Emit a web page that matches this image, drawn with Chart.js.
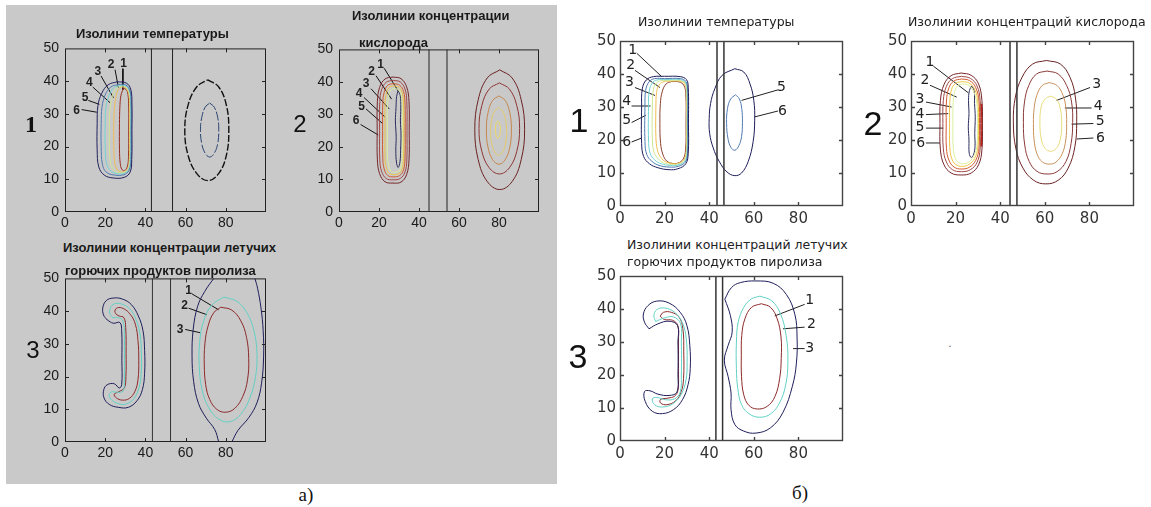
<!DOCTYPE html>
<html><head><meta charset="utf-8">
<script src="https://cdn.jsdelivr.net/npm/chart.js@4.4.1/dist/chart.umd.min.js"></script>
<style>
body{margin:0;background:#fff;width:1151px;height:507px;position:relative;overflow:hidden;}
#gray{position:absolute;left:6px;top:5px;width:551px;height:479px;background:#c9c9c9;}
canvas{position:absolute;}
.t{position:absolute;white-space:nowrap;color:#111;line-height:1;}
.c{transform:translate(-50%,-50%);}
.ab{font-family:"Liberation Sans",Arial,sans-serif;font-weight:bold;font-size:13px;color:#1a1a1a;transform:translateY(-50%);}
.bt{font-family:"DejaVu Sans",sans-serif;font-size:12.5px;color:#222;transform:translateY(-50%);}
</style></head><body>
<div id="gray"></div>
<script>
// ---------- shared ticks ----------
const xTicks = [0, 20, 40, 60, 80];
const yTicks = [0, 10, 20, 30, 40, 50];

// ---------- panel a1 : temperature (a) ----------
const a1Walls = [43, 53.5];
const a1T6 = [[26,39.8],[30.5,39.4],[32.7,37.5],[33.3,33],[33.3,25],[33.2,16],[32.4,12.2],[29.5,10.6],[24,10.4],[19.5,11.3],[16.8,13.8],[16,19],[16,27],[16.4,32.5],[18.3,36.3],[21.5,38.9],[26,39.8]];
const a1T5 = [[26.5,39],[30.3,38.8],[32.3,37],[32.9,33],[32.9,25],[32.8,16],[31.9,12.8],[29.3,11.4],[24.5,11.3],[20.5,12.2],[18.6,14.6],[18,20],[18,27],[18.4,32],[20,35.8],[22.8,38.2],[26.5,39]];
const a1T4 = [[27,38.7],[30.2,38.5],[32.1,36.8],[32.6,33],[32.6,25],[32.5,16],[31.6,13],[29.2,11.8],[25.3,11.8],[22.3,12.8],[20.6,15],[20,20],[20,27],[20.4,32],[21.8,35.5],[24,37.8],[27,38.7]];
const a1T3 = [[27.5,38.5],[30.1,38.3],[31.9,36.6],[32.4,33],[32.4,25],[32.3,16],[31.4,13.2],[29.2,12.1],[26.2,12.1],[24,13.1],[22.6,15.3],[22.1,20],[22.1,27],[22.5,32],[23.6,35.3],[25.3,37.6],[27.5,38.5]];
const a1T2 = [[28,38.2],[30,38],[31.6,36.4],[32.1,33],[32.1,25],[32,16],[31.2,13.3],[29.3,12.3],[27,12.4],[25.5,13.5],[24.6,15.5],[24.3,20],[24.3,27],[24.6,32],[25.4,35.3],[26.5,37.4],[28,38.2]];
const a1T1 = [[29,37.8],[30.3,37.5],[31.3,36],[31.7,32],[31.7,25],[31.6,17],[31,13.8],[29.6,12.6],[28.3,13],[27.5,14.8],[27.1,19],[27.1,27],[27.3,32],[27.8,35.5],[29,37.8]];
const a1R6 = [[71,40.4],[76.5,38.2],[80.3,32.6],[81.5,25],[80.3,17.4],[76.5,11.8],[71,9.6],[65.5,11.8],[61.2,17.4],[59.6,25],[61.2,32.6],[65.5,38.2],[71,40.4]];
const a1R5 = [[72,33.3],[74.3,32],[76,28.8],[76.5,25],[76,21],[74.3,18],[72,16.8],[69.7,18],[68,21],[67.4,25],[68,28.8],[69.7,32],[72,33.3]];
const a1Labels = [['1',29.2,45.2,28.8,43.8,28.8,37.4],['2',22.9,45,24.9,43.5,26.6,37.9],['3',16.3,42.9,17.9,41.6,24.1,34.9],['4',12.1,39.4,13.8,38.2,22.4,33.4],['5',10,34.9,11.6,34.1,17.1,32.9],['6',5.8,31,8.3,31.3,15.8,30.5]];

// ---------- panel a2 : oxygen (a) ----------
const a2Walls = [45, 54];
const a2O6 = [[27,41.5],[31,41],[33.8,38.5],[35,34],[35.1,25],[35,16],[33.8,11.5],[31,9.2],[27,8.9],[23,9.3],[20.3,11.8],[19.2,16],[19.1,25],[19.2,34],[20.3,38.3],[23,40.9],[27,41.5]];
const a2O5 = [[27.1,40.5],[30.6,40],[33,37.8],[33.9,34],[34,25],[33.9,16],[33,12.3],[30.6,10.3],[27.1,9.9],[23.6,10.3],[21.3,12.5],[20.4,16],[20.3,25],[20.4,34],[21.3,37.6],[23.6,39.9],[27.1,40.5]];
const a2O4 = [[27.3,39.5],[30.3,39],[32.3,37],[33,33.5],[33.1,25],[33,16.5],[32.3,13],[30.3,11.2],[27.3,10.8],[24.4,11.2],[22.6,13.2],[21.9,16.5],[21.8,25],[21.9,33.5],[22.6,36.8],[24.4,39],[27.3,39.5]];
const a2O3 = [[27.5,38.8],[30.1,38.3],[31.7,36.5],[32.3,33],[32.4,25],[32.3,17],[31.7,13.6],[30.1,11.9],[27.5,11.5],[25,11.9],[23.6,13.8],[23,17],[23,25],[23,33],[23.6,36.2],[25,38.3],[27.5,38.8]];
const a2O2 = [[27.8,38],[29.9,37.5],[31.1,35.8],[31.6,32.5],[31.7,25],[31.6,17.5],[31.1,14.2],[29.9,12.6],[27.8,12.2],[25.9,12.6],[24.8,14.4],[24.2,17.5],[24.2,25],[24.2,32.5],[24.8,35.6],[25.9,37.5],[27.8,38]];
const a2O1 = [[29.5,37.2],[30.6,36],[30.9,32],[30.7,28],[31,24],[30.8,19],[30.5,15.5],[29.6,13.7],[28.8,15],[28.4,19],[28.6,23],[28.2,28],[28.5,32],[28.8,35.5],[29.5,37.2]];
const a2E1 = [[80.4,43.7],[86.6,41.2],[91.1,34.5],[92.8,25.3],[91.1,16.1],[86.6,9.4],[80.4,6.9],[74.1,9.4],[69.6,16.1],[67.9,25.3],[69.6,34.5],[74.1,41.2],[80.4,43.7]];
const a2E2 = [[80.2,39.7],[85.2,37.8],[88.9,32.7],[90.3,25.7],[88.9,18.7],[85.2,13.6],[80.2,11.7],[75.1,13.6],[71.4,18.7],[70,25.7],[71.4,32.7],[75.1,37.8],[80.2,39.7]];
const a2E3 = [[80,35.7],[83.1,34.3],[85.4,30.5],[86.2,25.2],[85.4,19.9],[83.1,16.1],[80,14.7],[76.8,16.1],[74.5,19.9],[73.7,25.2],[74.5,30.5],[76.8,34.3],[80,35.7]];
const a2E4 = [[79.8,32.1],[81.8,31.1],[83.3,28.4],[83.8,24.8],[83.3,21.2],[81.8,18.5],[79.8,17.5],[77.8,18.5],[76.3,21.2],[75.8,24.8],[76.3,28.4],[77.8,31.1],[79.8,32.1]];
const a2E5 = [[79.5,28],[80.1,27.6],[80.5,26.7],[80.7,25.4],[80.5,24],[80.1,23.1],[79.5,22.7],[78.8,23.1],[78.4,24],[78.2,25.4],[78.4,26.7],[78.8,27.6],[79.5,28]];
const a2Labels = [['1',20.8,45.2,22.6,44.2,29.6,37.2],['2',16.3,43,18.5,41.9,26.3,34.7],['3',13.5,39.4,16,37.9,25.1,31.7],['4',10.1,36.5,12.5,35.2,23,29.2],['5',11.3,32.5,13.5,31.7,21.8,27.2],['6',8.5,28.2,10.8,26.9,19.6,23.7]];

// ---------- panel a3 : pyrolysis products (a) ----------
const a3Walls = [43.5, 52.5];
const a3L3 = [[21,37.3],[19.2,38.8],[18.8,41],[20.5,43.2],[24,44],[28.5,43.7],[33,42],[36.5,38.5],[38.8,34],[39.6,28],[39.6,21],[38.5,16],[35.8,12.6],[31.5,10.6],[26.5,10.6],[22,11.5],[19.4,13.5],[19.3,16],[21,17.5],[24.5,17.8],[27,16.5],[28.2,17.5],[28.3,25],[28.2,34],[27.3,36.5],[24,36.3],[21,37.3]];
const a3L2 = [[23.7,38],[22.3,39.3],[22.6,41],[24.5,42.2],[28,42.2],[32,40.8],[35.3,37.5],[37.3,33],[38,27],[37.9,21],[36.8,16.5],[34.2,13.2],[30.5,11.6],[26.5,11.7],[23.3,12.8],[22,14.2],[23,15.3],[26,15.2],[28.8,15.5],[29.5,18],[29.6,25],[29.5,33],[28.8,37],[26.5,38],[23.7,38]];
const a3L1 = [[25.5,39],[24.8,40],[26,41],[29,40.8],[32.5,39],[35,36],[36.3,31],[36.7,25],[36.3,19],[34.8,15.5],[32,13.3],[28.5,12.8],[25.5,13.5],[24.5,14.6],[26.5,15.3],[29.5,16.5],[30.3,20],[30.4,27],[30.2,35],[29.3,38],[27,38.5],[25.5,39]];
const a3R3a = [[74,50],[69.5,46],[66,41.5],[63.8,34.5],[63.2,26.5],[64,18.5],[66.4,11.8],[70.3,7.3],[74.5,3.8],[76.5,0]];
const a3R3b = [[83,0],[86,3.5],[91.5,7.5],[95.5,12],[97.8,18],[98.8,26],[98.6,34],[97.5,41],[95.8,47],[94.5,50]];
const a3R2 = [[79,44.3],[85.5,43],[90.5,39.5],[94,34],[95.5,27],[94.8,20],[92,13.5],[87.5,8.5],[82,6.2],[76.5,7],[71.5,10.5],[68.2,16],[66.8,23],[67,30.5],[69,37],[73,41.8],[79,44.3]];
const a3R1 = [[77.5,41.2],[83,40.3],[87.5,37],[90.3,32],[91.4,25.5],[90.8,19],[88.5,14],[84.5,10.3],[80,9.1],[75.5,10],[72,13],[70,17.5],[69.3,23.5],[69.6,30],[71.2,35.5],[74,39.5],[77.5,41.2]];
const a3Labels = [['1',61.5,46.3,63.1,45.3,76.4,40.4],['2',59.5,41.6,61.5,40.9,70.6,38.9],['3',57.3,34.4,59.8,34.4,67.3,33.4]];

// ---------- panel b1 : temperature (b) ----------
const b1Walls = [43.5, 46.6];
const b1T6 = [[20,39.3],[27,39.2],[29.8,38.3],[30.6,36],[30.7,25],[30.6,16],[29.5,12.8],[26,11.3],[22,11],[17,11.6],[13.2,12.8],[10.6,15],[9.7,19],[9.7,30],[10,35.5],[11.8,38.2],[15,39.2],[20,39.3]];
const b1T5 = [[20,38.6],[27,38.6],[29.5,37.8],[30.3,35.5],[30.4,25],[30.3,16],[29.3,13.3],[26,12],[22,11.8],[17.5,12.3],[14.2,13.6],[12,15.6],[11.2,19.5],[11.2,30],[11.5,35],[13,37.6],[15.5,38.6],[20,38.6]];
const b1T4 = [[20.5,38.3],[27,38.3],[29.3,37.5],[30.1,35.3],[30.2,25],[30.1,16.3],[29.1,13.6],[26,12.4],[22.5,12.3],[18.5,12.8],[15.5,14],[13.5,16],[12.8,20],[12.8,30],[13.1,34.8],[14.4,37.2],[16.6,38.2],[20.5,38.3]];
const b1T3 = [[21,38],[27,38],[29.1,37.3],[29.9,35.1],[30,25],[29.9,16.6],[28.9,13.9],[26,12.7],[23,12.6],[19.5,13.1],[17,14.4],[15.2,16.5],[14.5,20.5],[14.5,30],[14.8,34.6],[15.9,36.9],[18,37.9],[21,38]];
const b1T2 = [[21.5,37.8],[27,37.8],[28.9,37.1],[29.7,35],[29.8,25],[29.7,16.8],[28.7,14.1],[26,12.9],[23.5,12.9],[20.5,13.4],[18.3,14.7],[16.8,16.9],[16.1,21],[16.1,30],[16.4,34.4],[17.4,36.6],[19.3,37.6],[21.5,37.8]];
const b1T1 = [[23,37.7],[26.5,37.6],[28.6,36.6],[29.5,34],[29.6,25],[29.4,17],[28.3,14.2],[26,13],[23.5,12.9],[21,13.6],[19.3,15.5],[18.2,19],[17.9,25],[18.1,31],[19,34.8],[20.7,37],[23,37.7]];
const b1T0 = [[30.3,29],[30.4,25],[30.3,21.5]];
const b1R6 = [[51.5,41.6],[55.5,40.6],[58.3,37],[60,32],[60.4,26],[59.7,19.5],[57.5,13.5],[54.5,10],[51.5,9.2],[48,10.3],[44.5,13.5],[41.8,17.6],[40.2,22],[40,26.5],[40.6,31],[42.5,35.5],[45.8,39.6],[51.5,41.6]];
const b1R5 = [[51.8,33.7],[53.5,32.5],[54.6,29.5],[54.9,25.3],[54.5,21],[53.3,18.3],[51.5,16.9],[49.7,17.8],[48.4,20.5],[47.8,25],[48.2,29.5],[49.6,32.4],[51.8,33.7]];
const b1Labels = [['1',5.7,47.3,7.5,46.3,18.7,39.2],['2',4.8,42.7,6.7,41.1,17.9,35.9],['3',4.2,37.4,6.7,35.9,15.7,33.5],['4',3,31.7,5.2,30.3,13.7,30.3],['5',3,26,5.2,25.3,11.6,27.5],['6',3,19.4,5.2,19.4,9.7,20.6],['5',72.4,35.9,70.9,35.2,54.5,32],['6',72.8,28.8,70.9,28.8,60.4,27]];

// ---------- panel b2 : oxygen (b) ----------
const b2Walls = [44.4, 47.5];
const b2O6 = [[22.5,40.3],[27,39.6],[30.3,37],[31.8,32],[32,25],[31.8,17],[30.3,12.5],[27,10],[22.5,9.4],[18,10],[14.8,12.5],[13.2,17],[13,25],[13.2,32],[14.8,36.8],[18,39.5],[22.5,40.3]];
const b2O5 = [[22.6,39.3],[26.6,38.7],[29.6,36.4],[31,32],[31.2,25],[31,17.3],[29.6,13.2],[26.6,11],[22.6,10.4],[18.6,11],[15.9,13.3],[14.5,17.3],[14.3,25],[14.5,32],[15.9,36.3],[18.6,38.6],[22.6,39.3]];
const b2O4 = [[22.8,38.5],[26.3,38],[29,35.9],[30.5,31.8],[30.7,25],[30.5,17.5],[29,13.8],[26.3,11.8],[22.8,11.2],[19.3,11.8],[17,13.9],[15.9,17.5],[15.8,25],[15.9,31.8],[17,35.8],[19.3,37.9],[22.8,38.5]];
const b2O3 = [[23,37.7],[26,37.3],[28.5,35.4],[30,31.5],[30.3,25],[30,17.8],[28.5,14.4],[26,12.6],[23,12],[20,12.6],[18.2,14.5],[17.4,17.8],[17.3,25],[17.4,31.5],[18.2,35.3],[20,37.2],[23,37.7]];
const b2O2 = [[23.3,37],[25.8,36.6],[28,34.8],[29.5,31.2],[29.9,25],[29.5,18],[28,15],[25.8,13.3],[23.3,12.8],[21,13.3],[19.6,15],[18.9,18],[18.8,25],[18.9,31.2],[19.6,34.7],[21,36.5],[23.3,37]];
const b2O1 = [[27.2,36.4],[28.3,35],[28.5,31],[28.8,27],[28.6,22],[28.7,18],[28,15.5],[27,14.7],[26.1,16],[26,20],[25.7,24],[26,28],[25.8,32],[26.2,35],[27.2,36.4]];
const b2O0 = [[31.6,31],[31.8,25],[31.6,18]];
const b2E1 = [[60.8,44.1],[67,43],[71.3,39],[73.7,33],[74.3,25.5],[73.5,18],[70.5,11.5],[66,7.8],[60.5,6.7],[55,7.8],[50.2,11.5],[47,17.5],[45.9,25.5],[46.8,33],[49.8,39],[54.5,43],[60.8,44.1]];
const b2E2 = [[61,40.9],[66,40],[69.8,36.5],[72,31.5],[72.5,25.3],[71.8,19],[69.5,13.5],[65.5,10.4],[61,9.7],[56.5,10.5],[53,13.5],[51,18.5],[50.4,25.3],[50.9,31.5],[52.8,36.5],[56.3,40],[61,40.9]];
const b2E3 = [[62,37.4],[65.5,36.5],[68.2,33.5],[69.5,29.5],[69.8,25],[69.4,20],[67.8,15.8],[65,13.3],[62,12.7],[58.8,13.4],[56.5,15.8],[55.2,20],[54.9,25],[55.2,29.5],[56.4,33.5],[58.8,36.5],[62,37.4]];
const b2E4 = [[62.6,33.3],[65,32.5],[66.8,30],[67.6,25],[66.9,20],[65.1,17.4],[62.6,16.6],[60.2,17.4],[58.5,20],[57.8,25],[58.4,30],[60.2,32.5],[62.6,33.3]];
const b2Labels = [['1',8.5,43.6,10,42.4,25.7,34.3],['2',6.3,38.2,8.5,36.6,20.5,33],['3',4,32.3,6.7,31.5,18.2,30],['4',4,27.7,6.7,27.7,16.7,28],['5',4,23.8,6.7,23.6,14.5,23.6],['6',4.3,19.1,6.7,19.1,13,19.1],['3',83.3,36.9,80.3,35.9,65.3,32],['4',84,30.3,81,29.7,69,29.7],['5',84.8,25.5,81.8,25,72,24.8],['6',85,20.6,81.8,20.6,74.3,20.3]];

// ---------- panel b3 : pyrolysis products (b) ----------
const b3Walls = [43, 46];
const b3L3 = [[13,34],[11,36],[10.5,38.5],[12.5,41],[16.5,42.4],[22,41.8],[27,39],[30,35],[31.3,29],[31.5,22],[30.5,17],[28,12.5],[24,9.5],[19,8.3],[14.5,9],[11.3,12],[11,15],[13.5,15.2],[17,14.2],[22,13.8],[25.5,14.8],[26,20],[26,30],[25.8,35],[22,36.3],[17,35.5],[13,34]];
const b3L2 = [[16,36.2],[15.2,38],[16.5,39.8],[20,40.3],[24.5,39],[28,35.8],[29.7,31],[30.1,24],[29.6,18.5],[27.5,14.2],[23.5,11.2],[19,10.3],[15.5,11],[14.5,12.8],[16.5,13.2],[20.5,12.5],[24.5,12.8],[27,14.8],[27.5,20],[27.5,30],[27.2,35.5],[24,37.6],[19.5,37.2],[16,36.2]];
const b3L1 = [[18,37.8],[19.5,39],[23,39],[26.5,37.5],[28.2,34],[28.6,27],[28.5,19],[27.5,15],[25,12.2],[21,11],[18.2,11.5],[18.2,12.6],[21.5,13],[24.5,13.6],[26,15.5],[26.2,22],[26.2,30],[25.9,35],[23.5,36.6],[20,36.8],[18,37.8]];
const b3R3 = [[47,43],[50,46.5],[54,48],[61,48.5],[68.7,47.8],[74.6,44.4],[78.4,38.4],[79.4,31.5],[79.1,23.6],[77.3,16.6],[73.1,8.7],[67.5,4],[61,2.4],[55.5,3],[51.5,5],[49.8,9.5],[49.8,14.5],[48.5,19.5],[46.8,24.5],[48.5,29],[50.3,33],[49.5,38],[47,43]];
const b3R2 = [[62.7,43.9],[68,42.5],[72,38.5],[74.5,32],[75.3,24],[74.3,17],[71.5,11.5],[67.5,8.2],[62.7,7.2],[58,8.2],[54.5,11],[52.8,16],[52.2,22],[52.2,30],[53,36],[55.5,40.5],[58.8,43],[62.7,43.9]];
const b3R1 = [[63.4,41.6],[67.5,40.5],[70.5,37],[72.2,31.5],[72.3,25],[71.6,19],[69.5,13.5],[66,10.5],[61.5,9.7],[57.8,10.8],[55.5,14],[54.5,19.5],[54.4,26],[54.6,32],[56,37],[59,40.5],[63.4,41.6]];
const b3Labels = [['1',85.1,42.6,82.8,41.4,69.4,37.9],['2',85.8,35.2,82.8,34.5,73.1,34],['3',85.1,28,82.8,28,77.6,28]];

// ---------- drawing ----------
const NAVY = '#1e1e5a', STEEL = '#4f78b0', CYAN = '#72d2d2', YG = '#cfe690', ORG = '#f0bc50', DRED = '#982a1e';
const OX6 = '#75262a', OX5 = '#a04848', OX4 = '#d05a30', OX3 = '#efc443', OX2 = '#dcef9c', OX1 = '#2c2c5c';
const TEAL = '#62d0c4', IRED = '#8c2a2a';

function line(points, color, extra) {
  return Object.assign({ data: points.map(p => ({ x: p[0], y: p[1] })), showLine: true, borderColor: color,
    borderWidth: 1, pointRadius: 0, tension: 0.4, fill: false }, extra || {});
}

const framePlugin = {
  id: 'frame',
  afterDatasetsDraw(chart, args, o) {
    const { ctx, chartArea: a, scales: { x, y } } = chart;
    ctx.save();
    ctx.fillStyle = o.labelColor;
    ctx.font = o.labelFont;
    ctx.textAlign = 'center';
    ctx.textBaseline = 'middle';
    o.labels.forEach(l => ctx.fillText(l[0], x.getPixelForValue(l[1]), y.getPixelForValue(l[2])));
    ctx.strokeStyle = o.color;
    ctx.lineWidth = o.width;
    ctx.strokeRect(a.left + 0.5, a.top + 0.5, a.right - a.left - 1, a.bottom - a.top - 1);
    ctx.beginPath();
    xTicks.forEach(v => { if (v <= 0) return; const p = Math.round(x.getPixelForValue(v)) + 0.5;
      ctx.moveTo(p, a.bottom); ctx.lineTo(p, a.bottom - o.len); ctx.moveTo(p, a.top); ctx.lineTo(p, a.top + o.len); });
    yTicks.forEach(v => { if (v <= 0 || v >= 50) return; const p = Math.round(y.getPixelForValue(v)) + 0.5;
      ctx.moveTo(a.left, p); ctx.lineTo(a.left + o.len, p); ctx.moveTo(a.right, p); ctx.lineTo(a.right - o.len, p); });
    ctx.stroke();
    ctx.restore();
  }
};

function panel(L, T, W, H, datasets, labels, style) {
  const AX = 40, AY = 26, PT = 10, PR = 10;
  const cv = document.createElement('canvas');
  cv.width = W + AX + PR; cv.height = H + PT + AY;
  cv.style.left = (L - AX) + 'px'; cv.style.top = (T - PT) + 'px';
  document.body.appendChild(cv);
  const tickFont = { family: style.tickFamily, size: style.tickSize };
  new Chart(cv, {
    type: 'scatter',
    data: { datasets },
    options: {
      responsive: false, animation: false, devicePixelRatio: 1, events: [],
      layout: { padding: { left: 0, top: PT, right: PR, bottom: 0 } },
      plugins: { legend: { display: false }, tooltip: { enabled: false },
        frame: { labels, color: style.frame, width: style.frameW, len: 4, labelFont: style.labelFont, labelColor: '#222' } },
      scales: {
        x: { type: 'linear', min: 0, max: 100, grid: { display: false, drawTicks: false }, border: { display: false },
          afterBuildTicks: s => { s.ticks = xTicks.map(v => ({ value: v })); },
          afterFit: s => { s.height = AY; },
          ticks: { color: style.tickColor, font: tickFont, padding: style.xPad, maxRotation: 0, autoSkip: false } },
        y: { type: 'linear', min: 0, max: 50, grid: { display: false, drawTicks: false }, border: { display: false },
          afterBuildTicks: s => { s.ticks = yTicks.map(v => ({ value: v })); },
          afterFit: s => { s.width = AX; },
          ticks: { color: style.tickColor, font: tickFont, padding: style.yPad, autoSkip: false } }
      }
    },
    plugins: [framePlugin]
  });
}

function walls(ws, color, w) { return ws.map(v => line([[v, 0], [v, 50]], color, { tension: 0, borderWidth: w })); }
function leaders(ls, color) { return ls.map(l => line([[l[3], l[4]], [l[5], l[6]]], color, { tension: 0 })); }

const styleA = { tickFamily: '"Liberation Sans", Arial, sans-serif', tickSize: 14, tickColor: '#1a1a1a', xPad: 3, yPad: 6,
  frame: '#222', frameW: 1, labelFont: 'bold 12px "Liberation Sans", Arial, sans-serif' };
const styleB = { tickFamily: '"DejaVu Sans", sans-serif', tickSize: 15, tickColor: '#333', xPad: 4, yPad: 4,
  frame: '#444', frameW: 1.4, labelFont: '14px "DejaVu Sans", sans-serif' };

panel(65, 44, 201, 168, [
  ...walls(a1Walls, '#222', 1),
  line(a1T6, NAVY), line(a1T5, STEEL), line(a1T4, CYAN), line(a1T3, YG), line(a1T2, ORG), line(a1T1, DRED),
  line(a1R6, '#111', { borderDash: [7, 2], borderWidth: 1.4 }), line(a1R5, '#2a4470', { borderDash: [9, 2] }),
  ...leaders(a1Labels, '#111')
], a1Labels, styleA);

panel(339, 45, 200, 167, [
  ...walls(a2Walls, '#222', 1),
  line(a2O6, OX6), line(a2O5, OX5), line(a2O4, OX4), line(a2O3, OX3), line(a2O2, OX2), line(a2O1, OX1),
  line(a2E1, '#6a2020'), line(a2E2, '#8e3434'), line(a2E3, '#c4864c'), line(a2E4, '#e2ca6a'), line(a2E5, '#efd860'),
  ...leaders(a2Labels, '#111')
], a2Labels, styleA);

panel(65, 274, 201, 168, [
  ...walls(a3Walls, '#333', 1),
  line(a3L3, NAVY), line(a3L2, TEAL), line(a3L1, IRED),
  line(a3R3a, NAVY), line(a3R3b, NAVY), line(a3R2, TEAL), line(a3R1, IRED),
  ...leaders(a3Labels, '#111')
], a3Labels, styleA);

panel(620, 38, 223, 168, [
  ...walls(b1Walls, '#333', 1.5),
  line(b1T6, NAVY), line(b1T5, STEEL), line(b1T4, CYAN), line(b1T3, YG), line(b1T2, ORG), line(b1T1, '#8a3e2e'),
  line(b1T0, '#2038d0', { borderWidth: 1.5 }),
  line(b1R6, NAVY), line(b1R5, STEEL),
  ...leaders(b1Labels, '#222')
], b1Labels, styleB);

panel(911, 38, 223, 168, [
  ...walls(b2Walls, '#333', 1.5),
  line(b2O6, OX6), line(b2O5, OX5), line(b2O4, OX4), line(b2O3, OX3), line(b2O2, OX2), line(b2O1, OX1),
  line(b2O0, '#d02010', { borderWidth: 1.5 }),
  line(b2E1, '#6a2222'), line(b2E2, '#8a3a3a'), line(b2E3, '#c8905a'), line(b2E4, '#e8dc7a'),
  ...leaders(b2Labels, '#222')
], b2Labels, styleB);

panel(620, 273, 223, 168, [
  ...walls(b3Walls, '#333', 1.5),
  line(b3L3, NAVY), line(b3L2, TEAL), line(b3L1, IRED),
  line(b3R3, NAVY), line(b3R2, TEAL), line(b3R1, IRED),
  ...leaders(b3Labels, '#222')
], b3Labels, styleB);

function txt(s, x, y, cls, css) {
  const d = document.createElement('div');
  d.className = 't ' + cls; d.textContent = s;
  d.style.left = x + 'px'; d.style.top = y + 'px';
  if (css) d.style.cssText += css;
  document.body.appendChild(d);
}
txt('Изолинии температуры', 76, 33, 'ab');
txt('Изолинии концентрации', 352, 15, 'ab');
txt('кислорода', 359, 42, 'ab');
txt('Изолинии концентрации летучих', 63, 247, 'ab');
txt('горючих продуктов пиролиза', 65, 270, 'ab');
txt('Изолинии температуры', 638, 22, 'bt');
txt('Изолинии концентраций кислорода', 908, 22, 'bt');
txt('Изолинии концентраций летучих', 627, 245, 'bt');
txt('горючих продуктов пиролиза', 627, 262, 'bt');
txt('1', 31, 124, 'c', 'font:bold 24px "Liberation Serif",serif;');
txt('2', 300, 124, 'c', 'font:24px "Liberation Sans",Arial,sans-serif;');
txt('3', 33, 350, 'c', 'font:24px "Liberation Sans",Arial,sans-serif;');
txt('1', 579, 120, 'c', 'font:34px "Liberation Sans",Arial,sans-serif;');
txt('2', 873, 123, 'c', 'font:34px "Liberation Sans",Arial,sans-serif;');
txt('3', 578, 356, 'c', 'font:34px "Liberation Sans",Arial,sans-serif;');
txt('а)', 306, 495, 'c', 'font:19px "Liberation Serif",serif;');
txt('б)', 800, 493, 'c', 'font:19px "Liberation Serif",serif;');
txt('.', 950, 343, 'c', 'font:12px "Liberation Sans",sans-serif;color:#666;');
</script>
</body></html>
